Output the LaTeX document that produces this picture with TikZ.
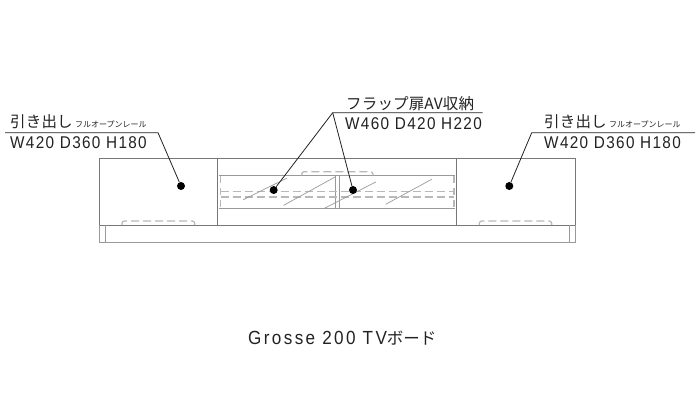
\documentclass[tikz,border=0pt]{standalone}
\usepackage{fontspec}
\setmainfont{Liberation Sans}
\newfontfamily\dimfont{Liberation Sans}[FakeStretch=0.9,LetterSpace=8]
\newfontfamily\titlefont{Liberation Sans}[FakeStretch=0.9,LetterSpace=12.5]
\newfontfamily\jp{Noto Sans CJK JP}[LetterSpace=1]
\newfontfamily\jpsmall{Noto Sans CJK JP}
\definecolor{ink}{HTML}{222222}
\definecolor{body}{HTML}{777777}
\definecolor{thin}{HTML}{999999}
\definecolor{dash}{HTML}{B8B8B8}
\tikzset{
  x=1pt,y=-1pt,
  bodyline/.style={draw=body,line width=0.9pt},
  thinline/.style={draw=thin,line width=0.7pt},
  dashline/.style={draw=dash,line width=1.2pt,dash pattern=on 8pt off 4pt},
  vdash/.style={draw=dash,line width=1.2pt,dash pattern=on 7pt off 5pt},
  leader/.style={draw=ink,line width=0.8pt},
  blackdot/.style={circle,fill=black,inner sep=0pt,minimum size=8pt},
  dimtext/.style={text=ink,inner sep=0pt,font=\fontsize{17}{18}\selectfont\dimfont,anchor=base west},
  headtext/.style={text=ink,inner sep=0pt,font=\fontsize{15.5}{18}\selectfont\jp,anchor=base west},
  titletext/.style={text=ink,inner sep=0pt,font=\fontsize{19}{20}\selectfont\titlefont,anchor=base west},
  smalltext/.style={text=ink,inner sep=0pt,font=\fontsize{8}{10}\selectfont\jpsmall,anchor=base west}
}
\begin{document}
\begin{tikzpicture}
\useasboundingbox (0,0) rectangle (700,400);
% cabinet
\draw[bodyline] (99,158.7) rectangle (575,225);
\draw[thinline] (99,225) -- (99,242.7) -- (575,242.7) -- (575,225);
\draw[thinline] (105.7,225) -- (105.7,242.7);
\draw[thinline] (569,225) -- (569,242.7);
\draw[bodyline] (217.5,158.7) -- (217.5,225);
\draw[bodyline] (456.7,158.7) -- (456.7,225);
% glass
\draw[thinline] (219,175.3) -- (455,175.3);
\draw[thinline] (219,208) -- (455,208);
\draw[thinline] (335,175.3) -- (335,208);
\draw[thinline] (339.3,175.3) -- (339.3,208);
\draw[vdash] (220.7,176) -- (220.7,208);
\draw[vdash] (454,176) -- (454,208);
\draw[dashline] (220.7,191.7) -- (454,191.7);
\draw[dashline] (220.7,197) -- (454,197);
\draw[dashline,rounded corners=2.5pt] (301.7,175.3) -- (301.7,171.7) -- (373,171.7) -- (373,175.3);
\draw[dashline,rounded corners=2.5pt] (122,225) -- (122,221) -- (194.7,221) -- (194.7,225);
\draw[dashline,rounded corners=2.5pt] (479.3,225) -- (479.3,221) -- (551.7,221) -- (551.7,225);
\draw[thinline] (243.3,199.7) -- (286.7,178.2);
\draw[thinline] (283.5,205.4) -- (335,177);
\draw[thinline] (325,208) -- (375.7,182);
\draw[thinline] (385.7,204.3) -- (431.7,179.3);
% dots
\node[blackdot] (dotL) at (181,186) {};
\node[blackdot] (dotA) at (273.7,190) {};
\node[blackdot] (dotB) at (353,190) {};
\node[blackdot] (dotR) at (509.3,186) {};
% labels
\node[headtext] (hikiL) at (10,127) {引き出し};
\node[smalltext] (railL) at (75,127) {フルオープンレール};
\node[dimtext] (dimL) at (10,148) {W420 D360 H180};
\node[headtext] (flap) at (346,109) {フラップ扉AV収納};
\node[dimtext] (dimM) at (345,129.5) {W460 D420 H220};
\node[headtext] (hikiR) at (544,127) {引き出し};
\node[smalltext] (railR) at (609,127) {フルオープンレール};
\node[dimtext] (dimR) at (544,148) {W420 D360 H180};
\node[titletext] (title) at (248,344.3) {Grosse 200 TV{\fontsize{16.5}{18}\selectfont\jpsmall ボード}};
% leaders
\coordinate (lA) at (5,132.7);
\coordinate (lB) at (158,132.7);
\coordinate (mA) at (482.7,112.7);
\coordinate (mB) at (332.7,112.7);
\coordinate (rA) at (695,132.7);
\coordinate (rB) at (531.7,132.7);
\draw[leader] (lA) -- (lB) -- (dotL);
\draw[leader] (mA) -- (mB) -- (dotA);
\draw[leader] (mB) -- (dotB);
\draw[leader] (rA) -- (rB) -- (dotR);
\end{tikzpicture}
\end{document}
